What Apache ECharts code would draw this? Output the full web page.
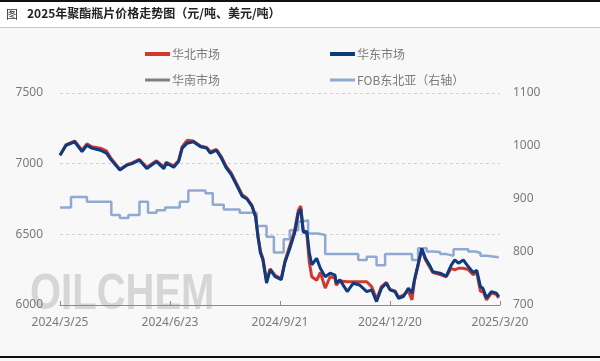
<!DOCTYPE html>
<html>
<head>
<meta charset="utf-8">
<script src="https://cdn.jsdelivr.net/npm/echarts@6/dist/echarts.min.js"></script>
<style>
html,body{margin:0;padding:0;background:#f8f8f8;}
#c{width:600px;height:361px;}
</style>
</head>
<body>
<div id="c"></div>
<script>
// x positions are days since 2024/3/25
var xTickLabels = ['2024/3/25','2024/6/23','2024/9/21','2024/12/20','2025/3/20'];
var seriesNames = ['华北市场','华东市场','华南市场','FOB东北亚（右轴）'];

var days = [0,5,12,18,22,26,33,38,42,49,55,59,65,71,79,85,87,93,97,100,104,109,115,120,123,128,132,136,140,145,149,153,157,160,162,164,166,169,172,176,181,184,188,192,195,197,199,202,204,206,210,213,217,221,225,226,229,235,240,245,251,255,259,263,267,270,274,277,281,285,288,290,293,296,299,303,305,311,316,320,323,326,330,334,338,341,344,346,349,353,357,359];

var huadong = [7060,7130,7155,7085,7130,7110,7095,7075,7025,6955,6990,7000,7025,6965,7015,6965,7005,6975,7015,7110,7145,7155,7120,7110,7075,7095,7040,6970,6925,6840,6770,6750,6700,6625,6480,6370,6320,6155,6250,6200,6180,6300,6400,6510,6650,6680,6515,6520,6370,6285,6330,6260,6200,6225,6212,6155,6178,6095,6154,6142,6095,6107,6024,6119,6154,6107,6095,6048,6060,6119,6084,6178,6290,6400,6330,6272,6236,6225,6205,6280,6319,6296,6319,6272,6230,6245,6130,6119,6050,6095,6084,6060];

var huabei = [7060,7135,7160,7095,7140,7120,7110,7090,7035,6960,6995,7005,7030,6975,7020,6975,7010,6985,7020,7120,7165,7160,7125,7115,7085,7100,7050,6980,6935,6850,6780,6755,6705,6630,6490,6380,6330,6175,6255,6210,6185,6310,6420,6530,6670,6700,6530,6500,6300,6200,6175,6230,6120,6200,6190,6140,6170,6165,6165,6165,6165,6130,6040,6130,6160,6110,6100,6055,6070,6100,6036,6170,6280,6395,6320,6260,6230,6215,6200,6260,6248,6260,6260,6250,6215,6230,6095,6100,6036,6085,6075,6050];

var huanan = [];

var fobDays = [0,9,22,42,49,56,65,72,79,86,98,105,119,125,134,147,161,169,175,183,188,195,198,203,211,217,244,251,259,266,288,293,300,305,311,316,322,334,340,344,349,359];
var fob = [884,904,895,870,864,870,895,874,879,884,895,916,911,889,880,874,849,829,799,824,841,857,860,835,832,796,785,791,775,796,785,807,801,800,796,793,805,801,798,793,790,790];

var leftTicks = [6000,7500,500];
var rightTicks = [700,1100,100];

function pairs(xs, ys){ return xs.map(function(x,i){ return [x, ys[i]]; }); }
function plain(v){ return String(v); }

var chart = echarts.init(document.getElementById('c'), null, {renderer:'canvas'});
var labelColor = '#7a7a7a';
chart.setOption({
  backgroundColor:'#f8f8f8',
  animation:false,
  graphic:[
    {type:'rect', shape:{x:0,y:0,width:600,height:28}, style:{fill:'#ffffff'}, z:-1},
    {type:'rect', shape:{x:0,y:0,width:600,height:2}, style:{fill:'#111'}},
    {type:'rect', shape:{x:0,y:27,width:600,height:1}, style:{fill:'#c8c8c8'}},
    {type:'rect', shape:{x:0,y:356,width:600,height:2}, style:{fill:'#111'}},
    {type:'text', left:6, top:8, style:{text:'图', fill:'#333', font:'12px "Noto Sans CJK SC"'}},
    {type:'text', left:27, top:7, style:{text:'2025年聚酯瓶片价格走势图（元/吨、美元/吨）', fill:'#222', font:'bold 12px "Noto Sans CJK SC"'}},
    {type:'text', x:30, y:270, z:-1, scaleX:0.8, style:{text:'OILCHEM', fill:'rgba(200,200,200,0.7)', font:'bold 50px "Liberation Sans"'}}
  ],
  legend:[
    {left:140, top:43, itemWidth:25, itemHeight:4, itemGap:110, icon:'rect',
     textStyle:{color:labelColor, fontSize:12, fontFamily:'"Noto Sans CJK SC"', padding:[0,0,0,-3]},
     data:[seriesNames[0], seriesNames[1]]},
    {left:140, top:69, itemWidth:25, itemHeight:3, itemGap:110, icon:'rect',
     textStyle:{color:labelColor, fontSize:12, fontFamily:'"Noto Sans CJK SC"', padding:[0,0,0,-3]},
     data:[seriesNames[2], seriesNames[3]]}
  ],
  grid:{left:60, right:100, top:93, bottom:56},
  xAxis:{
    type:'value', min:0, max:360, interval:90,
    axisLine:{lineStyle:{color:'#8a8a8a', width:1}},
    axisTick:{inside:true, length:4, lineStyle:{color:'#8a8a8a'}},
    axisLabel:{color:labelColor, fontSize:12, margin:12, fontFamily:'"Noto Sans"',
      formatter:function(v){ return xTickLabels[Math.round(v/90)] || ''; }},
    splitLine:{show:false}
  },
  yAxis:[
    {type:'value', min:leftTicks[0], max:leftTicks[1], interval:leftTicks[2],
     axisLine:{show:false}, axisTick:{show:false},
     axisLabel:{color:labelColor, fontSize:12, margin:17, fontFamily:'"Noto Sans"', formatter:plain},
     splitLine:{lineStyle:{color:'#d0d0d0', type:[3,3]}}},
    {type:'value', min:rightTicks[0], max:rightTicks[1], interval:rightTicks[2],
     axisLine:{show:false}, axisTick:{show:false},
     axisLabel:{color:labelColor, fontSize:12, margin:13, fontFamily:'"Noto Sans"', formatter:plain},
     splitLine:{show:false}}
  ],
  series:[
    {name:seriesNames[2], type:'line', yAxisIndex:0, data:huanan, showSymbol:false, color:'#7f7f7f', lineStyle:{width:2.5}},
    {name:seriesNames[3], type:'line', yAxisIndex:1, step:'end', data:pairs(fobDays,fob), showSymbol:false, color:'#8fa9d2', lineStyle:{width:2.5}},
    {name:seriesNames[0], type:'line', yAxisIndex:0, data:pairs(days,huabei), showSymbol:false, color:'#d03a2e', lineStyle:{width:3}},
    {name:seriesNames[1], type:'line', yAxisIndex:0, data:pairs(days,huadong), showSymbol:false, color:'#0e3a80', lineStyle:{width:3}}
  ]
});
</script>
</body>
</html>
